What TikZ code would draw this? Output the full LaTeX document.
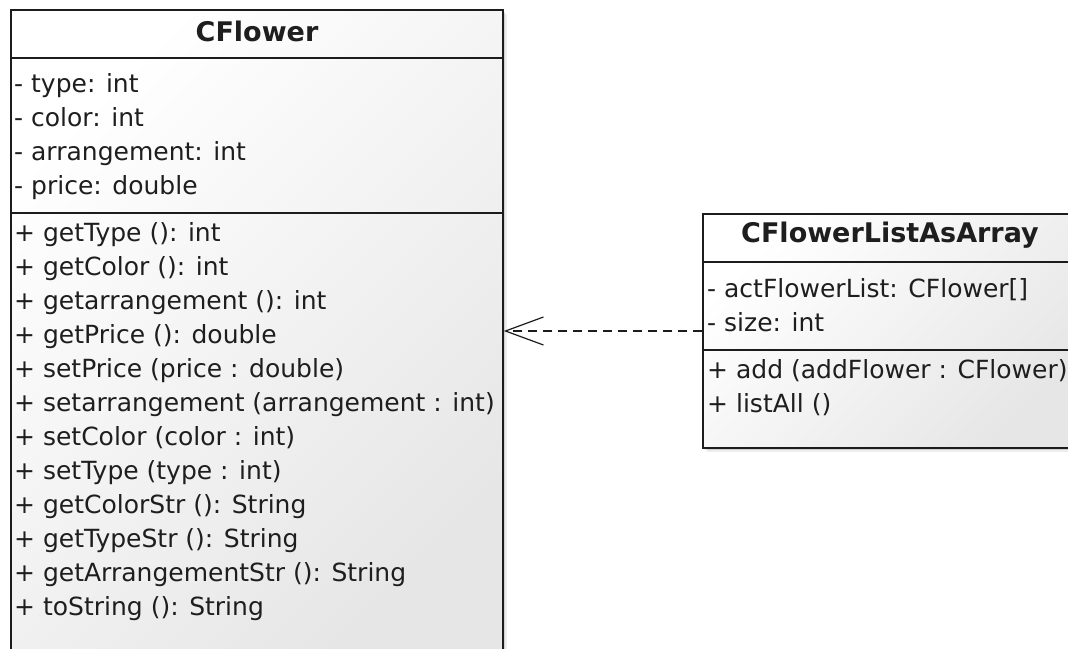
\documentclass[tikz,border=0pt]{standalone}
\usepackage{fontspec}
\setmainfont{DejaVu Sans}
\usetikzlibrary{arrows.meta,shadows}

\definecolor{umlline}{HTML}{1C1C1C}
\definecolor{umltext}{HTML}{1E1E1E}
\definecolor{umlshade}{HTML}{E6E6E6}

\tikzset{
	classbox/.style={draw=umlline, line width=1.5pt, rectangle, inner sep=0pt,
		top color=white, bottom color=umlshade, shading angle=45,
		drop shadow={shadow xshift=4pt, shadow yshift=-4pt, opacity=.07, fill=black},
		drop shadow={shadow xshift=2pt, shadow yshift=-2pt, opacity=.12, fill=black}},
	classname/.style={inner sep=0pt, text=umltext, font=\fontsize{27}{27}\selectfont\bfseries},
	member/.style={anchor=base west, inner sep=0pt, text=umltext, font=\fontsize{25}{25}\selectfont},
	sepline/.style={draw=umlline, line width=1.5pt},
	depend/.style={draw=umlline, line width=1.2pt, dash pattern=on 9pt off 6pt,
		-{Straight Barb[length=38pt, width=28pt, line width=1.2pt]}}
}

\begin{document}
\begin{tikzpicture}[x=1pt, y=-1pt]

	\clip (0,0) rectangle (1068,648);

	% the two classes
	\node[classbox, minimum width=492pt, minimum height=642pt] (cflower) at (257,331) {};
	\node[classbox, minimum width=374pt, minimum height=234pt] (clist) at (890,331) {};

	\node[classname] (cflower-name) at (257,31) {CFlower};
	\node[classname] (clist-name) at (890,235) {CFlowerListAsArray};

	% compartment lines
	\draw[sepline] (cflower.west |- 0,58) -- (cflower.east |- 0,58);
	\draw[sepline] (cflower.west |- 0,213) -- (cflower.east |- 0,213);
	\draw[sepline] (clist.west |- 0,262) -- (clist.east |- 0,262);
	\draw[sepline] (clist.west |- 0,350) -- (clist.east |- 0,350);

	% attributes and operations of CFlower
	\foreach \txt [count=\i from 0] in {
			{- type: int},
			{- color: int},
			{- arrangement: int},
			{- price: double}
		} {
			\node[member] (cflower-a\i) at (14,92+34*\i) {\txt};
		}
	\foreach \txt [count=\i from 0] in {
			{+ getType (): int},
			{+ getColor (): int},
			{+ getarrangement (): int},
			{+ getPrice (): double},
			{+ setPrice (price : double)},
			{+ setarrangement (arrangement : int)},
			{+ setColor (color : int)},
			{+ setType (type : int)},
			{+ getColorStr (): String},
			{+ getTypeStr (): String},
			{+ getArrangementStr (): String},
			{+ toString (): String}
		} {
			\node[member] (cflower-m\i) at (14,241+34*\i) {\txt};
		}

	% attributes and operations of CFlowerListAsArray
	\foreach \txt [count=\i from 0] in {
			{- actFlowerList: CFlower[]},
			{- size: int}
		} {
			\node[member] (clist-a\i) at (707,297+34*\i) {\txt};
		}
	\foreach \txt [count=\i from 0] in {
			{+ add (addFlower : CFlower)},
			{+ listAll ()}
		} {
			\node[member] (clist-m\i) at (707,378+34*\i) {\txt};
		}

	% dependency
	\draw[depend] (clist.west) -- (cflower.east);

\end{tikzpicture}
\end{document}
